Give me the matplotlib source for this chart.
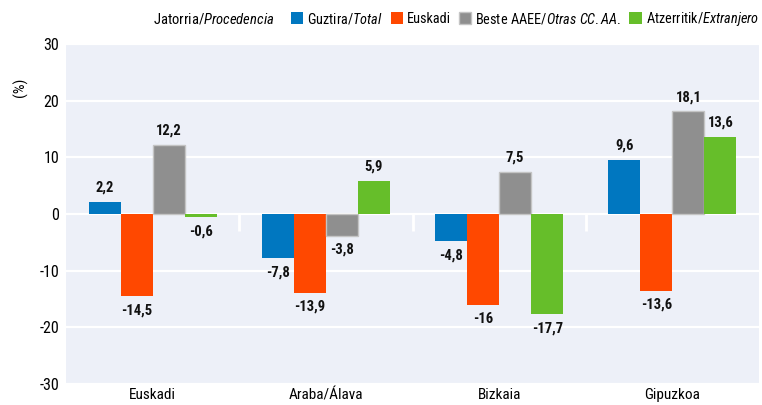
import numpy as np
import matplotlib
matplotlib.use("Agg")
import matplotlib.pyplot as plt
from matplotlib import font_manager

regions = ["Euskadi", "Araba/Álava", "Bizkaia", "Gipuzkoa"]
series = ["Guztira/$\\it{Total}$", "Euskadi", "Beste AAEE/$\\it{Otras\\ CC.AA.}$",
          "Atzerritik/$\\it{Extranjero}$"]
total = [2.2, -7.8, -4.8, 9.6]
euskadi = [-14.5, -13.9, -16.0, -13.6]
otras = [12.2, -3.8, 7.5, 18.1]
extranjero = [-0.6, 5.9, -17.7, 13.6]
colors = ["#0077c0", "#ff4800", "#8f8f8f", "#66be2a"]

# pick a condensed font if one is installed
names = {f.name for f in font_manager.fontManager.ttflist}
font = "DejaVu Sans"
for cand in ["Liberation Sans Narrow", "Roboto Condensed", "DejaVu Sans Condensed", "Open Sans Condensed"]:
    if cand in names:
        font = cand
        break
plt.rcParams["font.family"] = [font, "DejaVu Sans"]
plt.rcParams["mathtext.fontset"] = "custom"
plt.rcParams["mathtext.rm"] = font
plt.rcParams["mathtext.it"] = font + ":italic"
plt.rcParams["axes.unicode_minus"] = False

fig = plt.figure(figsize=(7.62, 4.05), dpi=100)
ax = fig.add_axes([66 / 762, 1 - 384 / 405, 693 / 762, 340 / 405])
ax.set_facecolor("#edf0f8")

x = np.arange(len(regions))
w = 0.185
bars = []
for i, (vals, c) in enumerate(zip([total, euskadi, otras, extranjero], colors)):
    edge = "#c4c4c4" if i == 2 else c
    b = ax.bar(x + (i - 1.5) * w, vals, w, color=c, edgecolor=edge, linewidth=1 if i == 2 else 0,
               label=series[i], zorder=3)
    bars.append(b)
    ax.bar_label(b, labels=[f"{v:g}".replace(".", ",") for v in vals], padding=5,
                 fontsize=10.5, fontweight="bold", color="#111111")

ax.set_ylim(-30, 30)
ax.set_xlim(-0.5, 3.5)
ax.set_yticks(range(-30, 31, 10))
ax.grid(axis="y", color="white", linewidth=1.6, zorder=1)
ax.set_axisbelow(True)
# little separators between groups
ax.vlines([0.5, 1.5, 2.5], -3, 0, color="white", linewidth=2, zorder=2)
for s in ax.spines.values():
    s.set_visible(False)
ax.tick_params(length=0, labelsize=11.5)
ax.tick_params(axis="y", pad=5)
ax.tick_params(axis="x", pad=3, labelsize=11)
ax.set_xticks(x)
ax.set_xticklabels(regions)

fig.text(20 / 762, 1 - 87 / 405, "(%)", rotation=90, ha="center", va="center", fontsize=11)
fig.text(274 / 762, 1 - 19 / 405, "Jatorria/$\\it{Procedencia}$", ha="right", va="center", fontsize=10.5)
fig.legend(handles=bars, labels=series, ncol=4, loc="center right",
           bbox_to_anchor=(759 / 762, 1 - 19 / 405), frameon=False, fontsize=10.3,
           handlelength=0.85, handleheight=0.85, handletextpad=0.3, columnspacing=0.55,
           borderpad=0, borderaxespad=0)

plt.savefig("out.png", dpi=100)
